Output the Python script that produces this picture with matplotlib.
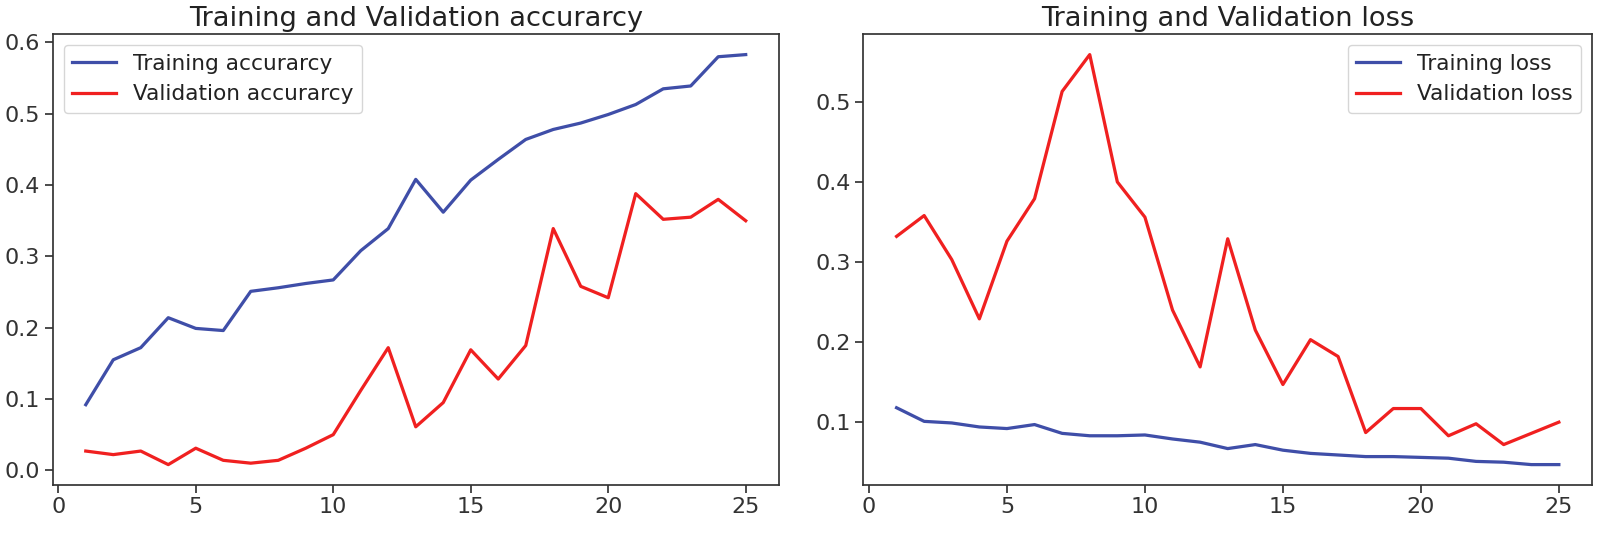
import matplotlib
matplotlib.use("Agg")
import matplotlib.pyplot as plt

epochs = list(range(1, 26))

train_acc = [0.092, 0.155, 0.172, 0.214, 0.199, 0.196, 0.251, 0.256, 0.262, 0.267,
             0.308, 0.339, 0.408, 0.362, 0.407, 0.436, 0.464, 0.478, 0.487, 0.499,
             0.513, 0.535, 0.539, 0.580, 0.583]
val_acc = [0.027, 0.022, 0.027, 0.008, 0.031, 0.014, 0.010, 0.014, 0.031, 0.050,
           0.112, 0.172, 0.061, 0.095, 0.169, 0.128, 0.175, 0.339, 0.258, 0.242,
           0.388, 0.352, 0.355, 0.380, 0.350]

train_loss = [0.118, 0.101, 0.099, 0.094, 0.092, 0.097, 0.086, 0.083, 0.083, 0.084,
              0.079, 0.075, 0.067, 0.072, 0.065, 0.061, 0.059, 0.057, 0.057, 0.056,
              0.055, 0.051, 0.050, 0.047, 0.047]
val_loss = [0.332, 0.358, 0.303, 0.229, 0.326, 0.379, 0.513, 0.559, 0.400, 0.356,
            0.240, 0.169, 0.329, 0.215, 0.147, 0.203, 0.182, 0.087, 0.117, 0.117,
            0.083, 0.098, 0.072, 0.086, 0.100]

blue = "#3f4ea8"
red = "#f02020"
s = 1.55

plt.rcParams.update({
    "font.size": 16,
    "legend.fontsize": 15.6,
    "axes.linewidth": 0.8 * s,
    "xtick.major.size": 3.5 * s,
    "ytick.major.size": 3.5 * s,
    "xtick.major.width": 0.8 * s,
    "ytick.major.width": 0.8 * s,
    "axes.edgecolor": "#333333",
    "text.color": "#222222",
    "xtick.color": "#333333",
    "ytick.color": "#333333",
})

fig = plt.figure(figsize=(15.99, 5.5), dpi=100)
ax1 = fig.add_axes([0.033, 0.118, 0.454, 0.820])
ax2 = fig.add_axes([0.540, 0.118, 0.4556, 0.820])

ax1.plot(epochs, train_acc, color=blue, lw=1.5 * s, label="Training accurarcy")
ax1.plot(epochs, val_acc, color=red, lw=1.5 * s, label="Validation accurarcy")
ax1.set_title("Training and Validation accurarcy", fontsize=19.6)
ax1.set_xticks([0, 5, 10, 15, 20, 25])
ax1.legend(loc="upper left")

ax2.plot(epochs, train_loss, color=blue, lw=1.5 * s, label="Training loss")
ax2.plot(epochs, val_loss, color=red, lw=1.5 * s, label="Validation loss")
ax2.set_title("Training and Validation loss", fontsize=19.6)
ax2.set_xticks([0, 5, 10, 15, 20, 25])
ax2.legend(loc="upper right")

fig.savefig("out.png", dpi=100)
